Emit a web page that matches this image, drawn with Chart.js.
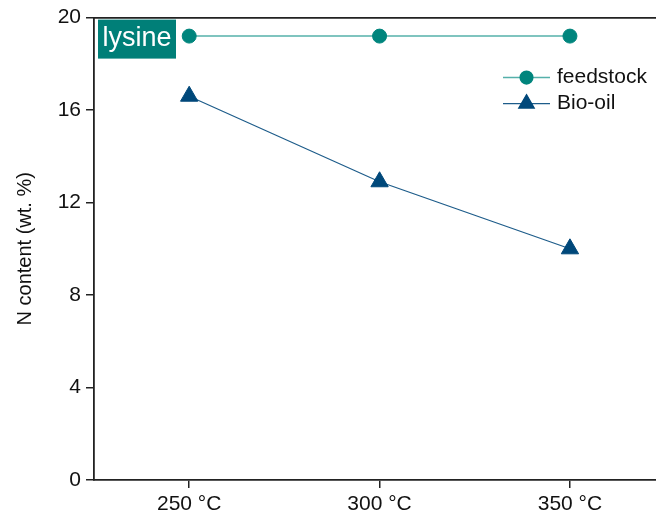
<!DOCTYPE html>
<html>
<head>
<meta charset="utf-8">
<script src="https://cdn.jsdelivr.net/npm/chart.js@4.4.0/dist/chart.umd.min.js"></script>
<style>
  html, body { margin: 0; padding: 0; background: #fff; overflow: hidden; }
</style>
</head>
<body>
<canvas id="nChart" width="656" height="515"></canvas>
<script>
// Data
const categories = ['250 °C', '300 °C', '350 °C'];
const temps = [250, 300, 350];
const feedstock = [19.2, 19.2, 19.2];
const bioOil = [16.6, 12.9, 10.0];
const yTicks = [0, 4, 8, 12, 16, 20];
const panelLabel = 'lysine';

const FONT = '"Liberation Sans", Arial, sans-serif';
const AXIS = '#222';

// lysine tag + legend drawn inside the plot area
const overlayPlugin = {
    id: 'overlay',
    afterDatasetsDraw(chart) {
        const { ctx, chartArea } = chart;
        ctx.save();
        ctx.fillStyle = '#007f78';
        ctx.fillRect(chartArea.left + 4, chartArea.top + 2, 78, 39);
        ctx.fillStyle = '#fff';
        ctx.font = '27px ' + FONT;
        ctx.textAlign = 'center';
        ctx.textBaseline = 'middle';
        ctx.fillText(panelLabel, chartArea.left + 43, chartArea.top + 21);

        chart.data.datasets.forEach((ds, i) => {
            const y = chartArea.top + 60 + i * 26;
            const x0 = chartArea.right - 153;
            ctx.strokeStyle = ds.borderColor;
            ctx.lineWidth = ds.borderWidth;
            ctx.beginPath();
            ctx.moveTo(x0, y);
            ctx.lineTo(x0 + 47, y);
            ctx.stroke();
            ctx.fillStyle = ds.pointBackgroundColor;
            ctx.strokeStyle = ds.pointBorderColor;
            Chart.helpers.drawPoint(ctx, {
                pointStyle: ds.pointStyle,
                radius: ds.pointRadius * 0.9,
                borderWidth: 1,
                rotation: 0
            }, x0 + 23.5, y);
            ctx.fillStyle = '#111';
            ctx.font = '21px ' + FONT;
            ctx.textAlign = 'left';
            ctx.textBaseline = 'middle';
            ctx.fillText(ds.label, x0 + 54, y);
        });
        ctx.restore();
    }
};

const ctx = document.getElementById('nChart').getContext('2d');
const chart = new Chart(ctx, {
    type: 'line',
    data: {
        datasets: [
            {
                label: 'feedstock',
                data: temps.map((t, i) => ({ x: t, y: feedstock[i] })),
                borderColor: '#55b0aa',
                borderWidth: 1.5,
                pointStyle: 'circle',
                pointRadius: 7,
                pointBackgroundColor: '#00857d',
                pointBorderColor: '#00857d',
                pointBorderWidth: 1
            },
            {
                label: 'Bio-oil',
                data: temps.map((t, i) => ({ x: t, y: bioOil[i] })),
                borderColor: '#1d5c8a',
                borderWidth: 1.2,
                pointStyle: 'triangle',
                pointRadius: 10,
                pointBackgroundColor: '#00487a',
                pointBorderColor: '#00487a',
                pointBorderWidth: 1
            }
        ]
    },
    options: {
        responsive: false,
        animation: false,
        layout: { padding: 0, autoPadding: false },
        plugins: {
            legend: { display: false },
            tooltip: { enabled: false }
        },
        scales: {
            x: {
                type: 'linear',
                min: 225,
                max: 372.6,
                afterBuildTicks: s => { s.ticks = temps.map(v => ({ value: v })); },
                afterFit: s => { s.height = 35; },
                ticks: {
                    callback: (v, i) => categories[i],
                    font: { size: 21, family: FONT },
                    color: '#111',
                    padding: 4,
                    maxRotation: 0
                },
                grid: { drawOnChartArea: false, drawTicks: true, tickLength: 8, color: AXIS, lineWidth: 1.5 },
                border: { display: true, color: AXIS, width: 1.8 }
            },
            xTop: {
                type: 'linear',
                position: 'top',
                afterFit: s => { s.height = 16; },
                ticks: { display: false },
                grid: { display: false },
                border: { display: true, color: AXIS, width: 1.8 }
            },
            y: {
                min: 0,
                max: 20,
                afterBuildTicks: s => { s.ticks = yTicks.map(v => ({ value: v })); },
                afterFit: s => { s.width = 94; },
                ticks: {
                    font: { size: 21, family: FONT },
                    color: '#111',
                    padding: 5
                },
                grid: { drawOnChartArea: false, drawTicks: true, tickLength: 8, color: AXIS, lineWidth: 1.5 },
                border: { display: true, color: AXIS, width: 1.8 },
                title: {
                    display: true,
                    text: 'N content (wt. %)',
                    font: { size: 20, family: FONT },
                    color: '#111',
                    padding: { top: 13, bottom: 0 }
                }
            }
        }
    },
    plugins: [overlayPlugin]
});
</script>
</body>
</html>
